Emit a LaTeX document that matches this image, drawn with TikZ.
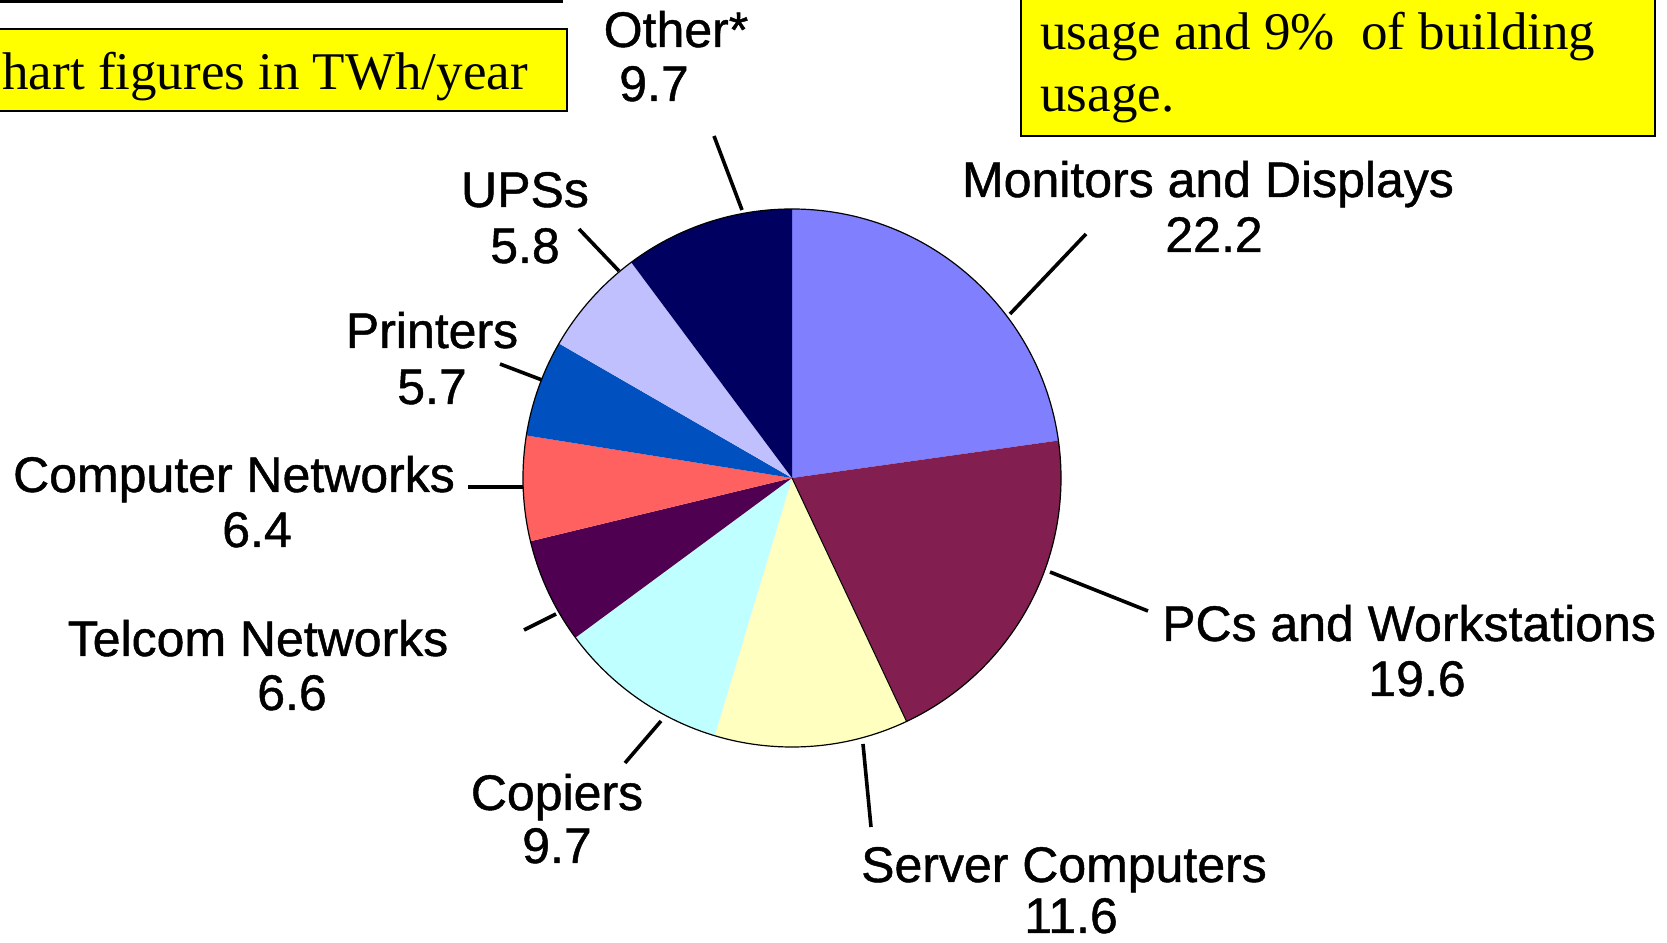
\documentclass[tikz,border=0pt]{standalone}
\usepackage{fontspec}
\setmainfont{Liberation Serif}
\newfontfamily\labsans[FakeBold=0.9]{Liberation Sans}
\newcommand\labfont{\labsans\fontsize{25pt}{30pt}\selectfont}
\newcommand\boxfont{\rmfamily\fontsize{26.5pt}{31pt}\selectfont}
\definecolor{cMon}{RGB}{128,128,255}
\definecolor{cPC}{RGB}{130,30,80}
\definecolor{cSrv}{RGB}{255,255,192}
\definecolor{cCop}{RGB}{192,255,255}
\definecolor{cTel}{RGB}{80,0,80}
\definecolor{cNet}{RGB}{255,96,96}
\definecolor{cPrn}{RGB}{0,80,192}
\definecolor{cUps}{RGB}{192,192,255}
\definecolor{cOth}{RGB}{0,0,96}
\definecolor{cYel}{RGB}{255,255,0}
\newcommand\pieslice[3]{\fill[#3] (C) -- ++(#1:269) arc[start angle=#1, end angle=#2, radius=269] -- cycle;}
\begin{document}
\begin{tikzpicture}[x=0.5pt,y=0.5pt,
  lab/.style={font=\labfont, anchor=base, inner sep=0pt},
  lead/.style={line width=1.8pt, black},
  ybox/.style={fill=cYel, draw=black, line width=1.2pt},
  btxt/.style={font=\boxfont, anchor=base west, inner sep=0pt}]
\useasboundingbox (0,0) rectangle (1667,943);
\fill[white] (0,0) rectangle (1667,943);

% top rule and yellow boxes
\coordinate (tl1) at (0,941.5);
\coordinate (tl2) at (563,941.5);
\draw[line width=1.5pt] (tl1) -- (tl2);
\coordinate (b1sw) at (-5,832);
\coordinate (b1ne) at (567,914);
\draw[ybox] (b1sw) rectangle (b1ne);
\node[btxt] (box1t) at (2,853) {hart figures in TWh/year};
\coordinate (b2sw) at (1021,807);
\coordinate (b2ne) at (1655,955);
\draw[ybox] (b2sw) rectangle (b2ne);
\node[btxt] (box2a) at (1040,893) {usage and 9\%\ \ of building};
\node[btxt] (box2b) at (1040,831) {usage.};

% pie
\coordinate (C) at (792,465);
\pieslice{90}{8}{cMon}
\pieslice{8}{-64.8}{cPC}
\pieslice{-64.8}{-106.7}{cSrv}
\pieslice{-106.7}{-143.6}{cCop}
\pieslice{-143.6}{-166.4}{cTel}
\pieslice{-166.4}{-189.1}{cNet}
\pieslice{-189.1}{-210}{cPrn}
\pieslice{-210}{-233.3}{cUps}
\pieslice{-233.3}{-270}{cOth}
\draw[black, line width=0.5pt] (C) -- ++(-64.8:269);
\draw[black, line width=0.6pt] (C) circle[radius=269];

% leader lines
\coordinate (oth1) at (714,807); \coordinate (oth2) at (742,733);
\coordinate (ups1) at (579,714); \coordinate (ups2) at (619,672);
\coordinate (prn1) at (500,579); \coordinate (prn2) at (542,563);
\coordinate (net1) at (468,456); \coordinate (net2) at (523,456);
\coordinate (tel1) at (524,313); \coordinate (tel2) at (556,329);
\coordinate (cop1) at (625,180); \coordinate (cop2) at (661,222);
\coordinate (srv1) at (871,116); \coordinate (srv2) at (863,199);
\coordinate (pcs1) at (1148,332); \coordinate (pcs2) at (1050,371);
\coordinate (mon1) at (1086,709); \coordinate (mon2) at (1010,629);
\draw[lead] (oth1) -- (oth2);
\draw[lead] (ups1) -- (ups2);
\draw[lead] (prn1) -- (prn2);
\draw[lead] (net1) -- (net2);
\draw[lead] (tel1) -- (tel2);
\draw[lead] (cop1) -- (cop2);
\draw[lead] (srv1) -- (srv2);
\draw[lead] (pcs1) -- (pcs2);
\draw[lead] (mon1) -- (mon2);

% labels
\node[lab] (othN) at (676,896) {Other*};
\node[lab] (othV) at (654,842) {9.7};
\node[lab] (upsN) at (525,736) {UPSs};
\node[lab] (upsV) at (525,680) {5.8};
\node[lab] (prnN) at (432,595) {Printers};
\node[lab] (prnV) at (432,539) {5.7};
\node[lab] (netN) at (234,451) {Computer Networks};
\node[lab] (netV) at (257,396) {6.4};
\node[lab] (telN) at (258,287) {Telcom Networks};
\node[lab] (telV) at (292,233) {6.6};
\node[lab] (copN) at (557,133) {Copiers};
\node[lab] (copV) at (557,80) {9.7};
\node[lab] (srvN) at (1064,61) {Server Computers};
\node[lab] (srvV) at (1071,10) {11.6};
\node[lab] (pcsN) at (1409,302) {PCs and Workstations};
\node[lab] (pcsV) at (1417,247) {19.6};
\node[lab] (monN) at (1208,746) {Monitors and Displays};
\node[lab] (monV) at (1214,691) {22.2};
\end{tikzpicture}
\end{document}
